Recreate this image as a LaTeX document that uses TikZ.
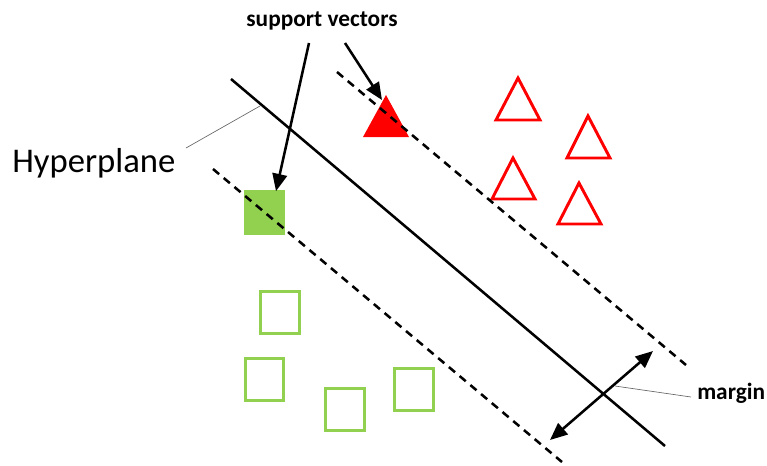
\documentclass[tikz,border=0pt]{standalone}
\usepackage{fontspec}
\setmainfont{Carlito}
\usetikzlibrary{arrows.meta}
\definecolor{sqgreen}{HTML}{92D050}
\definecolor{trired}{HTML}{FF0000}
\tikzset{
  >={Triangle[length=13pt,width=11pt]},
  boundary/.style={line width=1.9pt, black},
  marginline/.style={line width=1.9pt, black, dash pattern=on 6pt off 4.5pt},
  leader/.style={line width=0.5pt, black!60},
  pointer/.style={line width=1.9pt, black, ->},
  sqpoint/.style={draw=sqgreen, line width=2.2pt, minimum width=29pt, minimum height=32pt, inner sep=0pt, outer sep=0pt},
  tripoint/.style={draw=trired, line width=2.2pt, line join=miter},
  caption/.style={font=\fontsize{17.5}{20}\selectfont\bfseries, inner sep=0pt}
}
\begin{document}
\begin{tikzpicture}[x=0.75pt, y=-0.75pt]
\useasboundingbox (0,0) rectangle (767,465);

% class of squares
\node[sqpoint, fill=sqgreen] (sv1) at (264.5,212.5) {};
\node[sqpoint] (s1) at (280,312.5) {};
\node[sqpoint] (s2) at (264.5,379.5) {};
\node[sqpoint] (s3) at (345,409.5) {};
\node[sqpoint] (s4) at (414,389.5) {};

% class of triangles
\draw[tripoint] (518,78) -- (540,120) -- (496,120) -- cycle;
\draw[tripoint] (588,116) -- (610,158) -- (567,158) -- cycle;
\draw[tripoint] (513,158) -- (535,199) -- (492,199) -- cycle;
\draw[tripoint] (579,183) -- (601,224) -- (558,224) -- cycle;
\fill[trired] (386,95) -- (409,137) -- (363,137) -- cycle;
\coordinate (sv2) at (382,100);

% separating hyperplane and the two margin boundaries
\coordinate (hA) at (231,79);
\coordinate (hB) at (665,446);
\draw[boundary] (hA) -- (hB);
\coordinate (uA) at (337,72);
\coordinate (uB) at (686,365);
\draw[marginline] (uA) -- (uB);
\coordinate (lA) at (213,169);
\coordinate (lB) at (562,462);
\draw[marginline] (lA) -- (lB);

% labels
\node[caption] (svlabel) at (322,21) {support vectors};
\node[font=\fontsize{26}{30}\selectfont, inner sep=0pt, anchor=west] (hyp) at (12,163) {Hyperplane};
\node[caption, anchor=west] (mlabel) at (697,393) {margin};

% pointers to the support vectors
\coordinate (p1) at (309,43);
\coordinate (p2) at (345,43);
\draw[pointer] (p1) -- (sv1.north -| 276,0);
\draw[pointer] (p2) -- (sv2);

% leader lines
\coordinate (hL) at (186,148);
\coordinate (hR) at (260,106);
\draw[leader] (hL) -- (hR);
\coordinate (mL) at (615,386);
\coordinate (mR) at (691,397);
\draw[leader] (mL) -- (mR);

% margin width arrow
\coordinate (mA) at (550,440);
\coordinate (mB) at (653,351);
\draw[boundary, <->] (mA) -- (mB);
\end{tikzpicture}
\end{document}
